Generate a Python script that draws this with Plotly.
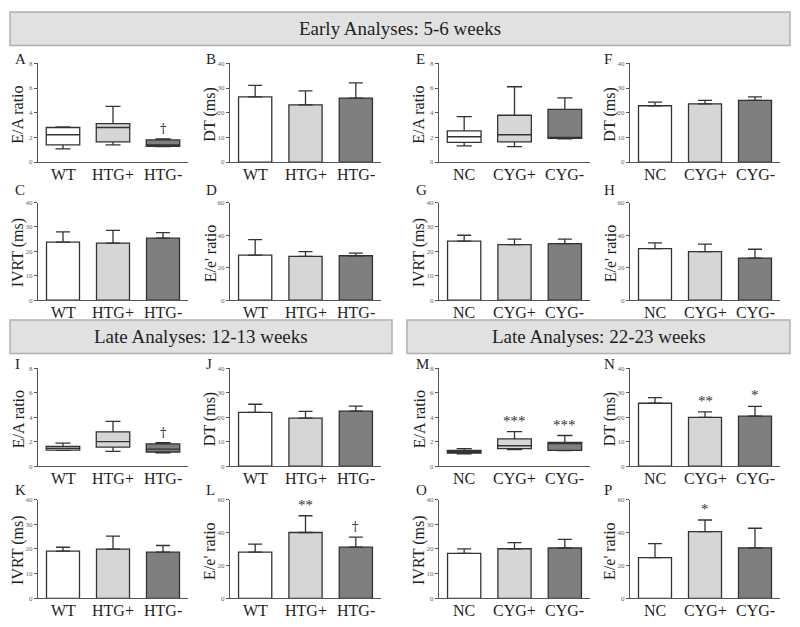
import plotly.graph_objects as go

# ---------------- data ----------------
htg_cats = ["WT", "HTG+", "HTG-"]
cyg_cats = ["NC", "CYG+", "CYG-"]
group_fills = ["#ffffff", "#d6d6d6", "#7f7f7f"]

# E/A ratio box plots: lower whisker, Q1, median, Q3, upper whisker
a_low = [1.07, 1.39, 1.25]
a_q1 = [1.39, 1.63, 1.28]
a_med = [2.21, 2.80, 1.39]
a_q3 = [2.80, 3.12, 1.79]
a_high = [2.85, 4.51, 1.87]

e_low = [1.31, 1.25, 1.87]
e_q1 = [1.60, 1.63, 1.92]
e_med = [2.05, 2.21, 2.00]
e_q3 = [2.53, 3.79, 4.27]
e_high = [3.68, 6.10, 5.20]

i_low = [1.28, 1.20, 1.09]
i_q1 = [1.31, 1.55, 1.15]
i_med = [1.45, 2.00, 1.39]
i_q3 = [1.60, 2.80, 1.81]
i_high = [1.87, 3.65, 1.92]

m_low = [0.99, 1.34, 1.26]
m_q1 = [1.07, 1.42, 1.29]
m_med = [1.18, 1.66, 1.83]
m_q3 = [1.29, 2.23, 1.93]
m_high = [1.42, 2.82, 2.50]

# bar panels: mean and SEM (upper error)
b_mean = [26.4, 23.2, 25.9]; b_err = [4.7, 5.6, 6.2]
f_mean = [22.8, 23.6, 25.0]; f_err = [1.5, 1.4, 1.4]
c_mean = [23.8, 23.4, 25.4]; c_err = [4.2, 5.2, 2.3]
d_mean = [27.7, 26.9, 27.3]; d_err = [9.5, 3.0, 1.6]
g_mean = [24.2, 22.8, 23.2]; g_err = [2.4, 2.2, 1.8]
h_mean = [31.7, 29.9, 25.9]; h_err = [3.5, 4.6, 5.4]
j_mean = [22.0, 19.6, 22.5]; j_err = [3.3, 2.8, 2.0]
n_mean = [25.7, 19.9, 20.4]; n_err = [2.3, 2.3, 4.0]
k_mean = [19.1, 19.9, 18.7]; k_err = [1.6, 5.3, 2.7]
l_mean = [28.1, 40.0, 31.1]; l_err = [4.8, 10.2, 6.1]
o_mean = [18.2, 20.1, 20.4]; o_err = [1.8, 2.5, 3.5]
p_mean = [24.8, 40.5, 30.7]; p_err = [8.5, 7.1, 11.9]

# significance marks per group
a_sig = ["", "", "†"]
i_sig = ["", "", "†"]
l_sig = ["", "**", "†"]
m_sig = ["", "***", "***"]
n_sig = ["", "**", "*"]
p_sig = ["", "*", ""]

ea_ticks = [0, 2, 4, 6, 8]
ms_ticks = [0, 10, 20, 30, 40]
ee_ticks = [0, 20, 40, 60]

banner_titles = ["Early Analyses: 5-6 weeks", "Late Analyses: 12-13 weeks", "Late Analyses: 22-23 weeks"]

# ---------------- layout geometry (page pixels) ----------------
PAGE_OFF = 8              # default body margin of the html page
W, H = 800 - PAGE_OFF, 627 - PAGE_OFF
col_px = [(38, 188), (230, 381), (439, 590), (630, 780)]
row_px = [(60, 160), (201, 300), (369, 468), (502, 602)]
letter_x = [14, 205, 415, 603]
letter_y = [56, 188, 365, 492]

# letter, row, col, kind, cats, data, ticks, ytitle, sig
panels = [
    ("A", 0, 0, "box", htg_cats, (a_low, a_q1, a_med, a_q3, a_high), ea_ticks, "E/A ratio", a_sig),
    ("B", 0, 1, "bar", htg_cats, (b_mean, b_err), ms_ticks, "DT (ms)", None),
    ("E", 0, 2, "box", cyg_cats, (e_low, e_q1, e_med, e_q3, e_high), ea_ticks, "E/A ratio", None),
    ("F", 0, 3, "bar", cyg_cats, (f_mean, f_err), ms_ticks, "DT (ms)", None),
    ("C", 1, 0, "bar", htg_cats, (c_mean, c_err), ms_ticks, "IVRT (ms)", None),
    ("D", 1, 1, "bar", htg_cats, (d_mean, d_err), ee_ticks, "E/e' ratio", None),
    ("G", 1, 2, "bar", cyg_cats, (g_mean, g_err), ms_ticks, "IVRT (ms)", None),
    ("H", 1, 3, "bar", cyg_cats, (h_mean, h_err), ee_ticks, "E/e' ratio", None),
    ("I", 2, 0, "box", htg_cats, (i_low, i_q1, i_med, i_q3, i_high), ea_ticks, "E/A ratio", i_sig),
    ("J", 2, 1, "bar", htg_cats, (j_mean, j_err), ms_ticks, "DT (ms)", None),
    ("M", 2, 2, "box", cyg_cats, (m_low, m_q1, m_med, m_q3, m_high), ea_ticks, "E/A ratio", m_sig),
    ("N", 2, 3, "bar", cyg_cats, (n_mean, n_err), ms_ticks, "DT (ms)", n_sig),
    ("K", 3, 0, "bar", htg_cats, (k_mean, k_err), ms_ticks, "IVRT (ms)", None),
    ("L", 3, 1, "bar", htg_cats, (l_mean, l_err), ee_ticks, "E/e' ratio", l_sig),
    ("O", 3, 2, "bar", cyg_cats, (o_mean, o_err), ms_ticks, "IVRT (ms)", None),
    ("P", 3, 3, "bar", cyg_cats, (p_mean, p_err), ee_ticks, "E/e' ratio", p_sig),
]

SERIF = "Liberation Serif"
LINE = "#333333"
AXIS = "#555555"
TEXT = "#1e1e1e"

fig = go.Figure()
layout = dict(
    width=W, height=H, margin=dict(l=0, r=0, t=0, b=0),
    paper_bgcolor="white", plot_bgcolor="rgba(0,0,0,0)",
    showlegend=False, shapes=[], annotations=[],
    font=dict(family=SERIF, color=TEXT),
)

def px_x(p):
    return (p - PAGE_OFF) / W

def px_y(p):
    return 1 - (p - PAGE_OFF) / H

for idx, (letter, r, c, kind, cats, data, ticks, ytitle, sig) in enumerate(panels, start=1):
    xa = "x" if idx == 1 else f"x{idx}"
    ya = "y" if idx == 1 else f"y{idx}"
    x0, x1 = col_px[c]
    ytop, ybot = row_px[r]

    if kind == "box":
        low, q1, med, q3, high = data
        for k, cat in enumerate(cats):
            fig.add_trace(go.Box(
                x=[cat], q1=[q1[k]], median=[med[k]], q3=[q3[k]],
                lowerfence=[low[k]], upperfence=[high[k]],
                fillcolor=group_fills[k], line=dict(color=LINE, width=1.3),
                width=0.67, whiskerwidth=0.45, boxpoints=False,
                xaxis=xa, yaxis=ya, hoverinfo="skip"))
        tops = high
    else:
        mean, err = data
        fig.add_trace(go.Bar(
            x=cats, y=mean, width=0.66,
            marker=dict(color=group_fills, line=dict(color=LINE, width=1.3)),
            error_y=dict(type="data", symmetric=False, array=err, arrayminus=[0] * len(err),
                         color=LINE, thickness=1.3, width=7),
            xaxis=xa, yaxis=ya, hoverinfo="skip"))
        tops = [m + e for m, e in zip(mean, err)]

    layout[f"xaxis{idx}"] = dict(
        domain=[px_x(x0), px_x(x1)], anchor=ya, type="category",
        categoryorder="array", categoryarray=cats, range=[-0.5, 2.5],
        showline=True, linecolor=AXIS, linewidth=1.3, ticks="", showticklabels=False,
        showgrid=False, zeroline=False, fixedrange=True)
    layout[f"yaxis{idx}"] = dict(
        domain=[px_y(ybot), px_y(ytop)], anchor=xa,
        range=[0, ticks[-1]], tickvals=ticks,
        showline=True, linecolor=AXIS, linewidth=1.3,
        ticks="outside", ticklen=3, tickcolor=AXIS, tickwidth=1,
        showgrid=False, zeroline=False, fixedrange=True,
        tickfont=dict(family=SERIF, size=7, color="#666"))

    # category labels under the axis
    for cat in cats:
        layout["annotations"].append(dict(
            text=cat, xref=xa, yref=ya, x=cat, y=0,
            xanchor="center", yanchor="top", yshift=-2, showarrow=False,
            font=dict(family=SERIF, size=16, color=TEXT)))
    # panel letter
    layout["annotations"].append(dict(
        text=letter, xref="paper", yref="paper", x=px_x(letter_x[c]), y=px_y(letter_y[r]),
        xanchor="left", yanchor="middle", showarrow=False, borderpad=0,
        font=dict(family=SERIF, size=15, color=TEXT)))
    # y-axis title
    layout["annotations"].append(dict(
        text=ytitle, xref="paper", yref="paper", x=px_x(x0 - 20), y=px_y((ytop + ybot) / 2 + 2),
        xanchor="center", yanchor="middle", textangle=-90, showarrow=False,
        font=dict(family=SERIF, size=16, color=TEXT)))
    # significance marks
    if sig:
        for k, s in enumerate(sig):
            if s:
                fam = "DejaVu Serif" if s == "†" else SERIF
                size = 13 if s == "†" else 15
                layout["annotations"].append(dict(
                    text=s, xref=xa, yref=ya, x=cats[k], y=tops[k],
                    xanchor="center", yanchor="bottom", yshift=1, showarrow=False,
                    font=dict(family=fam, size=size, color="#333")))

# banners
banner_boxes = [(10, 790, 8, 42), (10, 392, 320, 354), (407, 790, 320, 354)]
for title, (bx0, bx1, by0, by1) in zip(banner_titles, banner_boxes):
    layout["shapes"].append(dict(
        type="rect", xref="paper", yref="paper",
        x0=px_x(bx0), x1=px_x(bx1), y0=px_y(by1), y1=px_y(by0),
        fillcolor="#e1e1e1", line=dict(color="#b0b0b0", width=1.5), layer="below"))
    layout["annotations"].append(dict(
        text=title, xref="paper", yref="paper",
        x=px_x((bx0 + bx1) / 2), y=px_y((by0 + by1) / 2),
        xanchor="center", yanchor="middle", showarrow=False,
        font=dict(family=SERIF, size=19, color=TEXT)))

fig.update_layout(**layout)
fig.write_html("out.html")
